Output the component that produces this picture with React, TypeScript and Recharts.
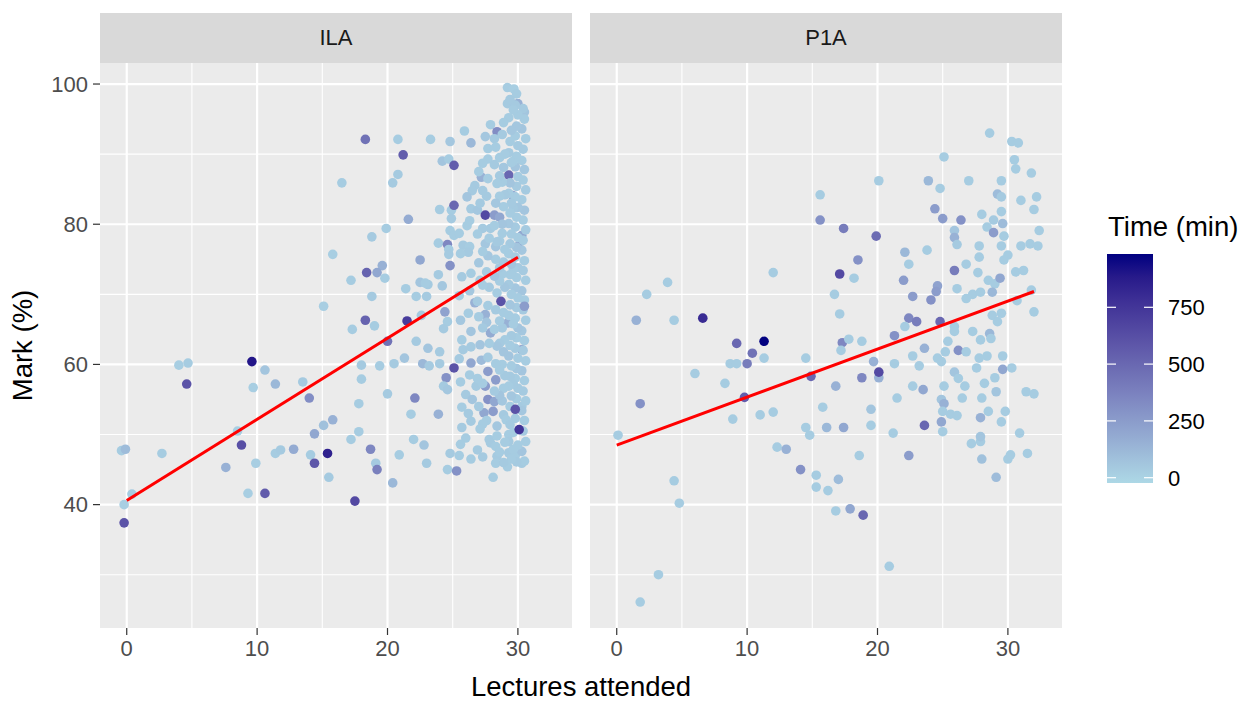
import { ComposedChart, Scatter, XAxis, YAxis, CartesianGrid } from "recharts";

const facets = ["ILA", "P1A"];
const xTicks = [0, 10, 20, 30];
const xMinor = [5, 15, 25];
const yTicks = [40, 60, 80, 100];
const yMinor = [30, 50, 70, 90];
const timeTicks = [0, 250, 500, 750];

// [lectures attended, mark %, time in minutes]
const ilaPoints = [
  [15.8, 75.7, 20], [15.1, 68.3, 20], [16.5, 85.9, 30],
  [9.6, 60.4, 900], [4.0, 59.9, 20], [4.7, 60.2, 30], [4.6, 57.2, 600], [10.6, 59.2, 60], [9.7, 56.7, 20],
  [11.4, 57.2, 120], [13.5, 57.5, 40], [14.0, 55.2, 320], [15.8, 52.1, 150], [15.1, 51.3, 80], [14.4, 50.1, 200],
  [8.5, 50.5, 20], [8.8, 48.5, 620], [-0.4, 47.7, 30], [-0.1, 47.9, 100], [2.7, 47.3, 30], [7.6, 45.3, 150],
  [9.9, 45.9, 20], [11.4, 47.3, 30], [11.8, 47.8, 40], [12.8, 47.9, 180], [14.1, 47.1, 30], [15.4, 47.3, 850],
  [14.4, 45.9, 580], [15.5, 43.9, 40], [9.3, 41.6, 20], [10.6, 41.6, 560], [0.4, 41.5, 30], [-0.2, 40.0, 20],
  [-0.2, 37.4, 600],
  [18.3, 92.1, 450], [20.8, 92.1, 30], [23.3, 92.1, 30], [24.8, 91.8, 50], [21.2, 89.9, 550], [24.2, 89.0, 60],
  [24.7, 89.3, 30], [25.1, 88.4, 550], [20.8, 87.1, 40], [20.4, 85.9, 40], [24.0, 82.1, 30], [24.9, 82.0, 30],
  [25.1, 82.7, 500], [24.9, 80.8, 40], [21.6, 80.7, 180], [19.9, 79.4, 30], [18.8, 78.2, 40], [24.8, 79.1, 30],
  [25.1, 78.4, 30], [23.9, 77.3, 30], [24.6, 77.1, 350], [24.7, 76.4, 30], [24.7, 75.7, 40], [24.8, 74.1, 300],
  [22.5, 74.9, 200], [19.6, 74.1, 150], [19.2, 73.1, 200], [18.4, 73.1, 520], [19.8, 72.3, 30], [17.2, 72.0, 30],
  [23.9, 72.8, 40], [22.5, 71.7, 60], [23.1, 71.4, 40], [22.9, 71.6, 30], [21.4, 70.8, 30], [24.2, 71.2, 50],
  [18.8, 69.7, 40], [22.2, 69.7, 30], [23.0, 69.7, 40], [24.4, 67.5, 220], [24.6, 66.1, 30], [24.3, 65.1, 40],
  [18.3, 66.3, 520], [21.5, 66.2, 720], [19.0, 65.5, 30], [17.3, 65.0, 30], [22.6, 67.0, 40], [20.0, 63.3, 450],
  [22.2, 63.3, 40],
  [18.0, 59.9, 40], [19.4, 59.8, 30], [20.5, 60.1, 40], [21.3, 60.9, 60], [22.7, 60.1, 120], [23.2, 59.8, 40],
  [24.0, 60.1, 40], [23.1, 62.3, 60], [24.0, 61.8, 40], [25.1, 59.5, 600], [24.5, 58.1, 300], [18.0, 57.9, 30],
  [24.3, 56.9, 40], [24.6, 56.4, 50], [20.0, 55.8, 40], [22.1, 55.2, 350], [17.8, 54.4, 30], [21.8, 52.9, 30],
  [23.9, 52.9, 150], [17.8, 50.4, 30], [17.2, 49.3, 30], [18.7, 47.9, 350], [22.0, 49.3, 30], [22.8, 48.5, 60],
  [20.9, 47.1, 30], [19.1, 45.9, 40], [19.2, 45.0, 380], [23.0, 45.9, 40], [24.8, 47.3, 40], [24.6, 45.0, 30],
  [25.3, 44.8, 300], [20.4, 43.1, 120], [17.5, 40.5, 650],
  [29.2, 99.5, 30], [29.7, 99.3, 20], [29.2, 97.2, 40], [30.0, 97.2, 150], [30.5, 96.0, 60], [25.9, 93.3, 30],
  [26.4, 91.6, 120], [27.9, 94.2, 30], [28.4, 93.2, 320], [27.5, 92.5, 50], [28.2, 92.2, 40], [27.7, 90.8, 30],
  [27.7, 89.3, 30], [27.2, 86.7, 150], [26.7, 85.5, 40], [26.5, 84.8, 40], [26.1, 83.9, 60], [26.4, 82.2, 40],
  [26.9, 82.0, 50], [27.5, 81.3, 650], [28.2, 81.3, 250], [28.6, 81.0, 200], [26.1, 79.8, 30], [27.3, 79.4, 40],
  [27.9, 79.4, 40], [28.8, 78.7, 30], [25.5, 78.7, 30], [25.8, 77.0, 40], [26.3, 76.8, 30], [27.5, 77.2, 50],
  [28.3, 76.8, 60], [30.3, 78.4, 200], [30.0, 76.8, 250], [29.6, 84.1, 200], [29.3, 87.0, 500],
  [26.7, 68.8, 150], [27.5, 67.1, 150], [29.2, 65.9, 150], [27.9, 64.5, 180], [26.4, 64.7, 60],
  [25.8, 62.1, 40], [26.4, 60.2, 200], [27.2, 60.6, 100], [30.3, 62.1, 250], [27.7, 59.0, 250], [27.5, 56.9, 250],
  [28.3, 57.8, 250], [26.8, 56.9, 40], [26.0, 55.7, 40], [26.5, 55.0, 60], [27.7, 55.0, 300], [28.2, 54.7, 200],
  [28.1, 53.3, 250], [27.4, 53.1, 200], [30.3, 54.0, 40], [28.9, 52.8, 40], [29.1, 52.1, 30],
  [29.4, 51.4, 40], [25.7, 53.9, 30], [26.4, 51.9, 40], [28.4, 51.2, 50], [26.0, 49.5, 30], [27.8, 49.3, 40],
  [29.3, 50.0, 30],
  [25.6, 48.6, 30], [27.9, 48.8, 40], [28.3, 48.3, 30], [28.4, 46.9, 40], [28.3, 45.9, 30], [29.3, 47.4, 40],
  [29.8, 47.0, 30], [30.3, 45.9, 40], [29.2, 45.4, 30], [28.1, 43.9, 30],
];

const ilaCluster = [
  [30.4, 96.5, 40], [30.5, 95.0, 30], [30.3, 93.6, 60], [30.6, 92.2, 30], [30.4, 90.7, 40], [30.3, 89.1, 30],
  [30.5, 87.8, 50], [30.4, 86.3, 30], [30.6, 84.9, 40], [30.3, 83.5, 30], [30.5, 82.0, 60], [30.4, 80.6, 30],
  [30.6, 79.2, 40], [30.4, 77.7, 30], [30.3, 76.3, 50], [30.5, 74.8, 30], [30.4, 73.4, 40], [30.6, 72.0, 30],
  [30.3, 70.5, 60], [30.5, 69.2, 30], [30.4, 67.8, 40], [30.6, 66.3, 30], [30.3, 64.8, 50], [30.5, 63.4, 30],
  [30.4, 62.0, 40], [30.6, 60.5, 30], [30.3, 59.1, 60], [30.5, 57.7, 30], [30.4, 56.2, 40], [30.6, 54.8, 30],
  [30.3, 53.4, 50], [30.5, 52.0, 30], [30.4, 50.5, 40], [30.6, 49.0, 30], [30.3, 47.6, 60], [30.5, 46.2, 30],
  [29.9, 98.6, 30], [29.8, 97.0, 40], [30.0, 95.6, 30], [29.9, 94.0, 50], [29.8, 92.6, 30], [30.0, 91.2, 40],
  [29.9, 89.7, 30], [29.8, 88.2, 60], [30.0, 86.8, 30], [29.9, 85.4, 40], [29.8, 83.9, 30], [30.0, 82.4, 50],
  [29.9, 81.0, 30], [29.8, 79.6, 40], [30.0, 78.1, 30], [29.9, 76.7, 60], [29.8, 75.3, 30], [30.0, 73.8, 40],
  [29.9, 72.4, 30], [29.8, 70.9, 50], [30.0, 69.5, 30], [29.9, 68.1, 40], [29.8, 66.6, 30], [30.0, 65.2, 60],
  [29.9, 63.8, 30], [29.8, 62.3, 40], [30.0, 60.9, 30], [29.9, 59.4, 50], [29.8, 58.0, 30], [30.0, 56.6, 40],
  [29.9, 55.1, 30], [29.8, 52.3, 40], [30.0, 48.5, 30], [29.9, 46.1, 40],
  [29.65, 96.3, 30], [29.65, 89.0, 30], [29.65, 82.3, 40], [29.65, 73.6, 30], [29.65, 65.8, 30],
  [29.65, 57.2, 40], [29.65, 50.3, 30], [29.65, 47.9, 30],
  [29.4, 97.8, 40], [29.3, 95.2, 30], [29.5, 93.4, 50], [29.4, 91.8, 30], [29.3, 90.2, 40], [29.5, 88.8, 30],
  [29.4, 85.9, 60], [29.3, 84.4, 30], [29.5, 83.0, 40], [29.4, 81.6, 30], [29.3, 80.1, 50], [29.5, 78.6, 30],
  [29.4, 77.2, 40], [29.3, 75.8, 30], [29.5, 74.3, 60], [29.4, 72.8, 30], [29.3, 71.4, 40], [29.5, 70.0, 30],
  [29.4, 68.5, 50], [29.3, 67.0, 30], [29.5, 64.1, 40], [29.4, 62.7, 30], [29.3, 61.2, 60], [29.5, 59.8, 30],
  [29.4, 58.3, 40], [29.3, 56.9, 30], [29.5, 55.5, 50], [29.4, 54.0, 30], [29.3, 49.0, 40], [29.5, 46.5, 30],
  [28.9, 94.5, 30], [28.8, 92.8, 40], [29.0, 90.0, 30], [28.9, 88.1, 50], [28.8, 86.0, 30], [29.0, 84.2, 40],
  [28.9, 82.5, 30], [28.8, 80.0, 60], [29.0, 76.4, 30], [28.9, 74.6, 40], [28.8, 72.9, 30], [29.0, 71.0, 50],
  [28.9, 67.4, 30], [28.8, 65.2, 40], [29.0, 63.5, 30], [28.9, 61.8, 60], [28.8, 60.0, 30], [29.0, 58.4, 40],
  [28.9, 56.6, 30], [28.8, 54.8, 50], [29.0, 48.9, 30], [28.9, 46.0, 40],
  [28.6, 89.5, 30], [28.6, 86.9, 40], [28.6, 84.0, 30], [28.6, 77.6, 30], [28.6, 73.8, 40], [28.6, 71.9, 30],
  [28.6, 66.2, 30], [28.6, 63.0, 40], [28.6, 59.2, 30], [28.6, 55.6, 60], [28.6, 47.5, 30],
  [28.3, 91.0, 30], [28.2, 88.5, 40], [28.4, 85.8, 30], [28.3, 83.0, 50], [28.2, 79.8, 30], [28.4, 77.5, 40],
  [28.3, 75.0, 30], [28.2, 72.6, 60], [28.4, 70.2, 30], [28.3, 67.8, 40], [28.2, 65.0, 30], [28.4, 62.6, 50],
  [28.3, 60.1, 30], [28.2, 56.2, 40], [28.4, 49.8, 30],
  [27.7, 86.5, 30], [27.6, 84.0, 40], [27.8, 78.0, 30], [27.7, 75.5, 50], [27.6, 73.2, 30], [27.8, 71.0, 40],
  [27.7, 68.4, 30], [27.6, 66.0, 60], [27.8, 63.0, 30], [27.7, 61.0, 40], [27.6, 52.0, 30],
  [27.3, 88.7, 30], [27.3, 84.8, 40], [27.3, 76.1, 30], [27.3, 71.3, 30], [27.3, 65.2, 40], [27.3, 57.3, 30],
  [27.3, 51.5, 30], [27.3, 46.8, 40],
  [27.0, 87.5, 30], [27.1, 83.0, 40], [26.9, 78.6, 30], [27.0, 74.5, 50], [27.1, 72.0, 30], [26.9, 69.0, 40],
  [27.0, 66.8, 30], [27.1, 62.8, 60], [26.9, 58.0, 30], [27.0, 54.0, 40], [27.1, 50.8, 30], [26.9, 47.8, 40],
  [26.3, 80.5, 30], [26.2, 76.0, 40], [26.4, 73.0, 30], [26.3, 70.5, 50], [26.2, 67.3, 30], [26.4, 62.5, 40],
  [26.3, 58.5, 30], [26.2, 53.0, 40], [26.4, 46.5, 30],
  [25.6, 75.8, 30], [25.7, 72.5, 40], [25.5, 69.8, 30], [25.6, 66.3, 50], [25.7, 63.5, 30], [25.5, 60.8, 40],
  [25.6, 57.5, 30], [25.7, 51.0, 40], [25.5, 47.0, 30],
  // darker ones drawn last
  [28.7, 69.0, 600], [30.5, 68.3, 250], [29.8, 53.6, 600], [30.1, 50.7, 750],
];

const p1aPoints = [
  [15.6, 84.2, 30], [15.6, 80.6, 300], [12.0, 73.1, 30], [3.9, 71.7, 30], [2.3, 70.0, 30], [1.5, 66.3, 150],
  [4.4, 66.3, 30], [6.6, 66.6, 800], [9.2, 63.0, 500], [11.3, 63.3, 980], [10.4, 61.6, 450], [11.3, 60.9, 30],
  [14.5, 60.9, 30], [8.7, 60.1, 30], [9.2, 60.1, 30], [10.0, 60.1, 400], [6.0, 58.7, 30], [8.3, 57.3, 30],
  [14.9, 58.3, 500], [9.8, 55.3, 550], [1.8, 54.4, 300], [8.9, 52.2, 30], [11.0, 52.8, 30], [12.0, 53.2, 30],
  [15.8, 53.9, 30], [14.5, 51.0, 30], [14.8, 49.9, 30], [16.1, 51.0, 120], [0.1, 49.9, 30], [12.3, 48.2, 30],
  [13.0, 47.9, 150], [14.1, 45.0, 300], [15.3, 44.2, 30], [15.3, 42.5, 30], [16.2, 42.0, 30], [4.4, 43.4, 30],
  [4.8, 40.2, 30], [3.2, 30.0, 30], [1.8, 26.1, 30],
  [28.6, 93.0, 30], [30.3, 91.8, 30], [30.8, 91.6, 30], [25.1, 89.6, 30], [30.5, 89.2, 30], [30.6, 87.9, 30],
  [31.8, 87.3, 30], [20.1, 86.2, 30], [23.9, 86.2, 120], [24.8, 85.1, 30], [27.0, 86.2, 30], [29.5, 86.2, 30],
  [29.2, 84.3, 100], [29.5, 83.9, 40], [31.0, 83.4, 30], [32.2, 83.9, 30], [32.0, 82.1, 30], [24.4, 82.2, 250],
  [25.0, 80.8, 250], [26.4, 80.6, 300], [28.0, 81.4, 30], [29.5, 81.8, 30], [28.9, 80.6, 40], [28.4, 79.6, 30],
  [29.6, 80.1, 100], [28.9, 78.8, 250], [29.7, 78.3, 30], [25.9, 79.1, 60], [25.9, 78.1, 150], [26.1, 77.1, 40],
  [32.4, 79.1, 30], [17.4, 79.4, 400], [19.9, 78.3, 480], [27.8, 76.9, 30], [29.5, 76.9, 30], [31.0, 76.9, 30],
  [31.7, 77.2, 30], [32.3, 76.9, 30], [22.1, 76.0, 120], [23.8, 76.3, 30], [22.4, 74.3, 30], [27.8, 75.3, 30],
  [30.0, 75.6, 30], [29.7, 74.9, 30], [26.8, 74.3, 30], [18.5, 74.9, 300], [17.1, 72.9, 650], [18.2, 72.3, 30],
  [22.0, 72.0, 250], [25.9, 73.4, 400], [27.7, 73.1, 30], [28.5, 72.0, 30], [29.0, 71.5, 30], [30.6, 73.2, 30],
  [31.2, 73.4, 30], [29.4, 72.3, 200], [16.7, 70.0, 30], [24.6, 71.2, 220], [24.5, 70.4, 250], [26.1, 70.8, 30],
  [22.7, 69.7, 250], [24.1, 69.2, 300], [26.8, 69.4, 30], [27.3, 70.0, 30], [27.9, 70.3, 30], [28.8, 70.3, 120],
  [31.8, 70.6, 30], [30.7, 69.1, 30], [32.0, 67.5, 30], [17.1, 67.2, 30], [22.4, 66.6, 350], [23.0, 66.1, 400],
  [24.8, 66.1, 500], [22.1, 65.4, 30], [25.9, 65.4, 30], [25.9, 64.7, 30], [28.8, 67.0, 30], [29.5, 67.3, 30],
  [29.2, 66.1, 30], [27.3, 64.7, 30], [27.9, 63.5, 30], [28.6, 64.4, 120], [28.7, 63.7, 30], [17.3, 63.1, 350],
  [18.8, 63.3, 30], [21.3, 64.1, 300], [25.4, 63.3, 30], [17.8, 63.6, 30],
  [17.2, 62.0, 30], [20.1, 58.1, 150], [18.8, 58.1, 350], [19.7, 60.4, 150], [21.3, 60.1, 30],
  [22.7, 61.2, 30], [23.2, 59.8, 30], [23.6, 62.3, 150], [24.6, 60.9, 30], [24.9, 60.4, 30], [25.2, 61.8, 30],
  [26.2, 62.0, 300], [26.8, 61.8, 30], [27.8, 60.9, 30], [28.4, 61.2, 30], [29.6, 61.2, 30], [27.6, 59.5, 30],
  [29.6, 59.3, 200], [30.3, 59.5, 30], [25.9, 58.9, 60], [26.2, 58.0, 30], [26.7, 56.9, 30], [28.2, 57.3, 30],
  [29.0, 58.1, 30], [29.1, 56.1, 60], [31.4, 56.1, 30], [32.0, 55.8, 30], [16.8, 56.9, 150], [22.7, 56.9, 30],
  [23.5, 56.4, 200], [25.1, 56.9, 30], [21.5, 55.2, 30], [24.9, 55.0, 60], [25.1, 54.4, 150], [26.5, 55.2, 30],
  [28.0, 55.2, 30], [19.5, 53.6, 60], [25.0, 53.3, 30], [25.6, 52.9, 30], [26.1, 52.7, 30], [27.9, 52.4, 150],
  [28.5, 53.3, 30], [29.8, 53.3, 30], [29.5, 51.8, 30], [24.9, 51.8, 200], [23.6, 51.3, 500], [17.4, 51.0, 200],
  [19.5, 51.3, 30], [21.2, 50.2, 30], [25.0, 50.4, 30], [30.9, 50.2, 30], [27.2, 48.7, 30], [27.9, 49.0, 30],
  [27.9, 49.7, 60], [18.6, 47.0, 30], [22.4, 47.0, 250], [28.0, 46.5, 80], [30.0, 46.5, 30], [30.2, 47.1, 30],
  [31.5, 47.3, 30], [29.1, 43.9, 100], [17.0, 43.6, 100], [16.8, 39.1, 30], [17.9, 39.4, 200], [18.9, 38.5, 500],
  [20.9, 31.2, 30], [20.1, 58.9, 650],
];

const ilaFit = [{ x: 0, y: 40.6 }, { x: 30, y: 75.3 }];
const p1aFit = [{ x: 0, y: 48.5 }, { x: 32, y: 70.4 }];

const T_MIN = -24;
const T_MAX = 983;
const LOW = [173, 216, 230];
const HIGH = [0, 0, 128];

function toLab(rgb: number[]) {
  const lin = (c: number) => {
    c /= 255;
    return c <= 0.04045 ? c / 12.92 : Math.pow((c + 0.055) / 1.055, 2.4);
  };
  const [r, g, b] = rgb.map(lin);
  const X = (0.4124 * r + 0.3576 * g + 0.1805 * b) / 0.95047;
  const Y = 0.2126 * r + 0.7152 * g + 0.0722 * b;
  const Z = (0.0193 * r + 0.1192 * g + 0.9505 * b) / 1.08883;
  const f = (t: number) => (t > 0.008856 ? Math.cbrt(t) : 7.787 * t + 16 / 116);
  return [116 * f(Y) - 16, 500 * (f(X) - f(Y)), 200 * (f(Y) - f(Z))];
}

function fromLab([L, a, b]: number[]) {
  const fy = (L + 16) / 116;
  const fx = fy + a / 500;
  const fz = fy - b / 200;
  const inv = (t: number) => (t * t * t > 0.008856 ? t * t * t : (t - 16 / 116) / 7.787);
  const X = 0.95047 * inv(fx);
  const Y = inv(fy);
  const Z = 1.08883 * inv(fz);
  const rgb = [
    3.2406 * X - 1.5372 * Y - 0.4986 * Z,
    -0.9689 * X + 1.8758 * Y + 0.0415 * Z,
    0.0557 * X - 0.204 * Y + 1.057 * Z,
  ].map((c) => {
    const v = c <= 0.0031308 ? 12.92 * c : 1.055 * Math.pow(Math.max(c, 0), 1 / 2.4) - 0.055;
    return Math.round(Math.min(1, Math.max(0, v)) * 255);
  });
  return `rgb(${rgb[0]},${rgb[1]},${rgb[2]})`;
}

const labLow = toLab(LOW);
const labHigh = toLab(HIGH);

function timeColour(t: number) {
  const f = Math.min(1, Math.max(0, (t - T_MIN) / (T_MAX - T_MIN)));
  return fromLab(labLow.map((v, i) => v + (labHigh[i] - v) * f));
}

const FONT = '"Liberation Sans", Arial, sans-serif';
const PANEL_W = 472;
const PANEL_H = 565;
const PANEL_TOP = 63;
const STRIP_TOP = 13;
const X_DOMAIN = [-2.05, 34.15];
const Y_DOMAIN = [22.4, 103];
const SMALL = 22;
const LARGE = 27.5;

const dot = (props: any) => (
  <circle cx={props.cx} cy={props.cy} r={4.8} fill={timeColour(props.payload.t)} />
);
const noDot = () => <g />;

function Panel({ points, fit, left, label, showY }: any) {
  const data = points.map(([x, y, t]: number[]) => ({ x, y, t }));
  const yW = showY ? 100 : 0;
  return (
    <>
      <div
        style={{
          position: "absolute", left: left + yW, top: STRIP_TOP, width: PANEL_W, height: PANEL_TOP - STRIP_TOP,
          background: "#D9D9D9", color: "#1A1A1A", fontSize: SMALL, lineHeight: `${PANEL_TOP - STRIP_TOP}px`, textAlign: "center",
        }}
      >
        {label}
      </div>
      <div style={{ position: "absolute", left, top: PANEL_TOP }}>
        <ComposedChart width={PANEL_W + yW} height={PANEL_H + 45} margin={{ top: 0, right: 0, bottom: 0, left: 0 }}>
          <CartesianGrid fill="#EBEBEB" stroke="#FFFFFF" strokeWidth={1.1} horizontalValues={yMinor} verticalValues={xMinor} />
          <CartesianGrid stroke="#FFFFFF" strokeWidth={2.2} horizontalValues={yTicks} verticalValues={xTicks} />
          <XAxis
            type="number" dataKey="x" domain={X_DOMAIN} ticks={xTicks} interval={0} height={45}
            axisLine={false} tickSize={7} tickMargin={5} tickLine={{ stroke: "#333333", strokeWidth: 1.2 }}
            tick={{ fill: "#4D4D4D", fontSize: SMALL }}
          />
          <YAxis
            type="number" dataKey="y" domain={Y_DOMAIN} ticks={yTicks} interval={0} width={yW} hide={!showY}
            axisLine={false} tickSize={7} tickMargin={5} tickLine={{ stroke: "#333333", strokeWidth: 1.2 }}
            tick={{ fill: "#4D4D4D", fontSize: SMALL }}
          />
          <Scatter data={data} shape={dot} isAnimationActive={false} />
          <Scatter
            data={fit} shape={noDot} line={{ stroke: "#FF0000", strokeWidth: 3 }} lineType="joint"
            isAnimationActive={false}
          />
        </ComposedChart>
      </div>
    </>
  );
}

const BAR_X = 1107;
const BAR_W = 46;
const BAR_TOP = 254;
const BAR_BOTTOM = 483;
const ZERO_Y = 477.7;
const PX_PER_MIN = 0.2272;
const gradientStops = [0, 0.1, 0.2, 0.3, 0.4, 0.5, 0.6, 0.7, 0.8, 0.9, 1];

export default function App() {
  return (
    <div style={{ position: "absolute", left: 0, top: 0, width: 1250, height: 704, background: "#FFFFFF", fontFamily: FONT }}>
      <Panel points={[...ilaPoints, ...ilaCluster]} fit={ilaFit} left={0} label={facets[0]} showY />
      <Panel points={p1aPoints} fit={p1aFit} left={590} label={facets[1]} showY={false} />
      <svg width={1250} height={704} style={{ position: "absolute", left: 0, top: 0, pointerEvents: "none" }}>
        <defs>
          <linearGradient id="timeGrad" x1="0" y1="1" x2="0" y2="0">
            {gradientStops.map((s) => (
              <stop key={s} offset={s} stopColor={timeColour(T_MIN + s * (T_MAX - T_MIN))} />
            ))}
          </linearGradient>
        </defs>
        <text x={22} y={345.5} transform="rotate(-90 22 345.5)" textAnchor="middle" dominantBaseline="central" fontSize={LARGE} fill="#000">
          Mark (%)
        </text>
        <text x={581} y={696} textAnchor="middle" fontSize={LARGE} fill="#000">
          Lectures attended
        </text>
        <text x={1108} y={236} fontSize={LARGE} fill="#000">
          Time (min)
        </text>
        <rect x={BAR_X} y={BAR_TOP} width={BAR_W} height={BAR_BOTTOM - BAR_TOP} fill="url(#timeGrad)" />
        {timeTicks.map((t) => {
          const y = ZERO_Y - t * PX_PER_MIN;
          return (
            <g key={t}>
              <line x1={BAR_X} x2={BAR_X + 9} y1={y} y2={y} stroke="#FFFFFF" strokeWidth={1.2} />
              <line x1={BAR_X + BAR_W - 9} x2={BAR_X + BAR_W} y1={y} y2={y} stroke="#FFFFFF" strokeWidth={1.2} />
              <text x={1168} y={y + 7.8} fontSize={SMALL} fill="#000">
                {t}
              </text>
            </g>
          );
        })}
      </svg>
    </div>
  );
}
